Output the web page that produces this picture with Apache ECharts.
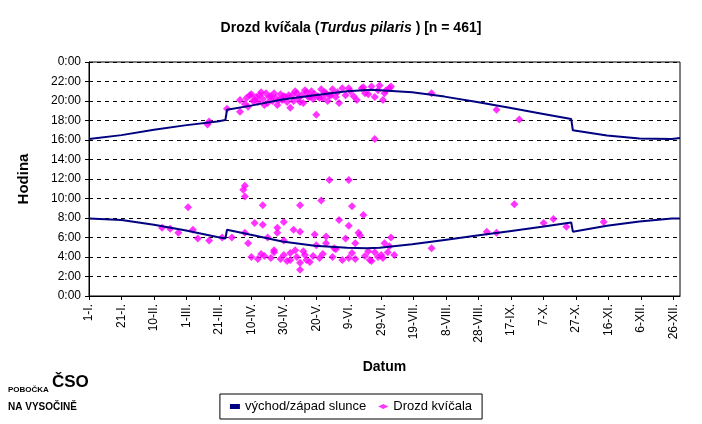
<!DOCTYPE html>
<html><head><meta charset="utf-8">
<script src="https://cdn.jsdelivr.net/npm/echarts@6/dist/echarts.min.js"></script>
<style>html,body{margin:0;padding:0;background:#fff}#c{width:702px;height:424px}</style>
</head><body><div id="c"></div>
<script>
// day index (0 = 1 Jan), hour of day
const sunriseDays = [0,20,40,59,79,84,85,99,119,139,159,171,179,199,219,239,259,279,297,298,319,339,359,364];
const sunriseHours = [7.95,7.8,7.3,6.75,6.05,5.9,6.8,6.3,5.6,5.15,4.95,4.9,4.95,5.3,5.75,6.2,6.65,7.1,7.55,6.6,7.2,7.65,7.95,7.95];
const sunsetDays = [0,20,40,59,79,84,85,99,119,139,159,174,179,199,219,239,259,279,297,298,319,339,359,364];
const sunsetHours = [16.1,16.5,17.05,17.5,17.9,18.05,19.1,19.5,20.15,20.6,21.0,21.15,21.1,20.9,20.45,19.9,19.3,18.7,18.15,17.0,16.45,16.15,16.1,16.2];
const birdDays = [74,73,85,93,96,93,99,102,106,108,111,114,117,120,124,125,128,130,133,136,140,142,145,148,154,160,163,168,170,174,176,179,181,183,186,176,211,251,265,
 97,98,100,101,103,104,105,107,109,110,112,113,115,116,118,119,121,122,123,126,127,129,131,132,134,135,137,138,139,141,143,144,146,147,149,150,152,153,156,158,161,165,169,172,178,182,185,
 55,61,64,67,74,82,88,95,96,96,96,98,107,107,116,114,120,120,124,127,130,133,136,130,139,143,146,148,151,130,130,154,160,164,166,160,160,162,169,173,176,180,182,185,188,211,245,251,262,280,286,294,317,
 100,102,104,106,108,110,112,114,116,118,120,122,124,126,128,132,134,138,140,142,144,146,150,152,156,158,162,164,167,170,172,174,178,181,184,186,45,50];
const birdHours = [17.9,17.6,19.2,18.9,19.7,20.1,20.6,20.1,20.9,19.6,20.4,20.8,20.1,20.5,19.3,20.6,20.8,19.9,21.1,20.4,18.6,20.3,20.9,20.6,19.8,21.3,20.5,21.3,20.8,21.5,20.4,21.6,20.1,21.1,21.5,16.1,20.8,19.1,18.1,
 20.3,19.4,20.7,20.0,20.4,19.9,20.6,20.2,20.8,19.8,20.5,20.0,20.3,19.6,20.7,20.1,20.4,19.9,20.6,20.0,21.0,20.3,20.6,19.8,20.9,20.4,21.0,20.2,20.7,20.5,21.2,20.3,20.8,20.0,20.6,21.2,20.4,20.9,21.3,20.6,21.0,20.1,21.4,20.7,21.1,20.8,21.3,
 6.5,9.1,6.8,5.9,5.7,6.0,6.0,10.9,11.3,10.2,6.5,5.4,7.3,9.3,6.5,4.7,7.6,5.7,3.7,4.7,6.6,4.2,3.5,9.3,6.3,9.8,5.4,11.9,4.9,2.7,3.4,7.8,3.9,5.4,6.5,11.9,7.2,9.2,8.3,3.7,4.5,4.2,5.4,5.1,4.2,4.9,6.6,6.5,9.4,7.5,7.9,7.1,7.6,
 4.0,7.5,3.8,4.3,4.1,6.0,3.9,4.5,7.0,3.8,4.2,3.6,4.4,6.8,4.0,4.6,3.7,4.1,5.2,3.9,4.3,6.1,4.0,4.8,3.7,5.9,4.4,3.8,6.2,4.1,4.6,3.6,4.0,3.9,4.5,6.0,7.0,6.9];
const xTickLabels = ['1-I.','21-I.','10-II.','1-III.','21-III.','10-IV.','30-IV.','20-V.','9-VI.','29-VI.','19-VII.','8-VIII.','28-VIII.','17-IX.','7-X.','27-X.','16-XI.','6-XII.','26-XII.'];
const yTickLabels = ['0:00','2:00','4:00','6:00','8:00','10:00','12:00','14:00','16:00','18:00','20:00','22:00','0:00'];

const zip=(a,b)=>a.map((v,i)=>[v,b[i]]);
const ch=echarts.init(document.getElementById('c'));
ch.setOption({
 backgroundColor:'#fff',
 animation:false,
 textStyle:{fontFamily:'Liberation Sans, Arial, sans-serif'},
 title:{left:'center',top:16,text:'{b|Drozd kvíčala (}{i|Turdus pilaris}{b| ) [n = 461]}',
   textStyle:{rich:{b:{fontSize:14,fontWeight:'bold',color:'#000',fontFamily:'Liberation Sans'},i:{fontSize:14,fontWeight:'bold',fontStyle:'italic',color:'#000',fontFamily:'Liberation Sans'}}}},
 grid:{left:89,right:22,top:62,bottom:128,show:true,borderColor:'#000',borderWidth:1},
 xAxis:{type:'value',min:0,max:364,interval:20,name:'Datum',nameLocation:'middle',nameGap:64,
   nameTextStyle:{fontSize:14,fontWeight:'bold',color:'#000'},
   axisLine:{lineStyle:{color:'#000'}},axisTick:{show:true,length:4,lineStyle:{color:'#000'}},
   splitLine:{show:false},
   axisLabel:{rotate:90,fontSize:12,color:'#000',showMaxLabel:false,formatter:v=>xTickLabels[v/20]||''}},
 yAxis:{type:'value',min:0,max:24,interval:2,name:'Hodina',nameLocation:'middle',nameGap:58,
   nameTextStyle:{fontSize:15,fontWeight:'bold',color:'#000'},
   axisLine:{show:true,lineStyle:{color:'#000'}},axisTick:{show:true,length:4,lineStyle:{color:'#000'}},
   splitLine:{show:true,lineStyle:{color:'#000',type:[4,4],width:1}},
   axisLabel:{fontSize:12,color:'#000',formatter:v=>yTickLabels[v/2]}},
 legend:{bottom:5,left:'center',itemGap:12,borderColor:'#000',borderWidth:1,padding:[6,10],
   textStyle:{fontSize:13,color:'#000'},
   data:[{name:'východ/západ slunce',icon:'rect',itemStyle:{color:'#000080'}},{name:'Drozd kvíčala',icon:'diamond'}],
   itemWidth:10,itemHeight:5},
 graphic:[{type:'text',left:8,top:386,style:{text:'POBOČKA',fontSize:8,fontWeight:'bold',fill:'#000'}},
   {type:'text',left:52,top:374,style:{text:'ČSO',fontSize:17,fontWeight:'bold',fill:'#000'}},
   {type:'text',left:8,top:402,style:{text:'NA VYSOČINĚ',fontSize:10,fontWeight:'bold',fill:'#000'}}],
 series:[
  {name:'východ/západ slunce',type:'line',data:zip(sunriseDays,sunriseHours),symbol:'none',lineStyle:{color:'#000080',width:2},itemStyle:{color:'#000080'}},
  {name:'východ/západ slunce',type:'line',data:zip(sunsetDays,sunsetHours),symbol:'none',lineStyle:{color:'#000080',width:2},itemStyle:{color:'#000080'}},
  {name:'Drozd kvíčala',type:'scatter',data:zip(birdDays,birdHours),symbol:'diamond',symbolSize:8,itemStyle:{color:'#FF00FF'}}
 ]
});
</script></body></html>
